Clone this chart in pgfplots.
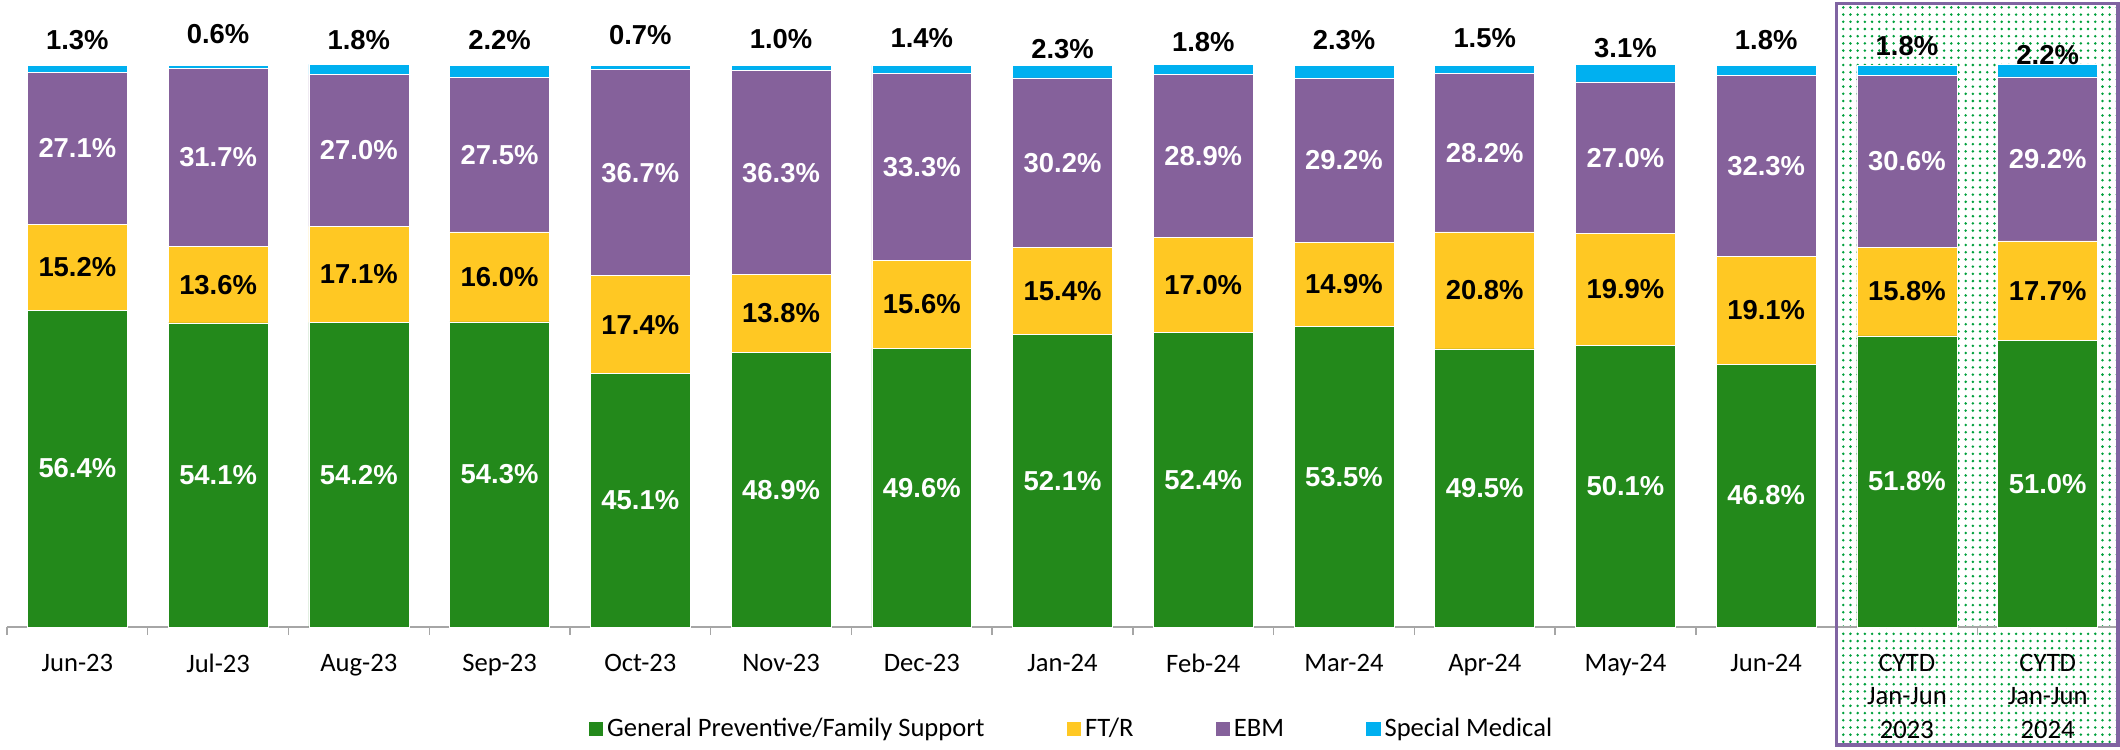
\documentclass[border=0pt]{standalone}
\usepackage{pgfplots}
\pgfplotsset{compat=1.18}
\usepackage{pgfplotstable}
\usepackage{fontspec}
\setmainfont{Carlito}
\newfontfamily\arialfont{Liberation Sans}
\usetikzlibrary{patterns.meta}
\definecolor{cgreen}{RGB}{35,137,27}
\definecolor{cyellow}{RGB}{255,200,35}
\definecolor{cpurple}{RGB}{133,97,155}
\definecolor{cblue}{RGB}{0,176,240}
\definecolor{dotgreen}{RGB}{0,160,60}
\definecolor{boxpurple}{RGB}{128,100,162}
\definecolor{axgray}{RGB}{166,166,166}

\pgfplotstableread{
x gp ft ebm sm ty
0 56.4 15.2 27.1 1.3 104.4
1 54.1 13.6 31.7 0.6 105.5
2 54.2 17.1 27.0 1.8 104.4
3 54.3 16.0 27.5 2.2 104.4
4 45.1 17.4 36.7 0.7 105.3
5 48.9 13.8 36.3 1.0 104.6
6 49.6 15.6 33.3 1.4 104.8
7 52.1 15.4 30.2 2.3 102.8
8 52.4 17.0 28.9 1.8 104.1
9 53.5 14.9 29.2 2.3 104.4
10 49.5 20.8 28.2 1.5 104.8
11 50.1 19.9 27.0 3.1 103.0
12 46.8 19.1 32.3 1.8 104.4
13 51.8 15.8 30.6 1.8 103.4
14 51.0 17.7 29.2 2.2 101.8
}\datatable

\pgfplotsset{
  common/.style={scale only axis, width=1055.5pt, height=311.9pt,
    xmin=-0.5, xmax=14.5, ymin=0, ymax=111, clip=false},
  sqlegend/.style={legend image code/.code={\fill[##1,draw=none] (0pt,-3.6pt) rectangle (7.2pt,3.6pt);}},
  lbl/.style={only marks, mark=text, text mark={},
    point meta=explicit,
    nodes near coords={\pgfmathprintnumber[fixed,fixed zerofill,precision=1,assume math mode=true]{\pgfplotspointmeta}\%},
    nodes near coords align=center,
    every node near coord/.append style={anchor=center, text=#1, inner sep=0pt,
      font=\arialfont\bfseries\fontsize{13.7}{14}\selectfont}},
}

\begin{document}
\begin{tikzpicture}
% background: dotted box behind the two CYTD bars
\begin{axis}[common, axis lines=none, xtick=\empty, ytick=\empty]
\fill[pattern={Dots[distance=3.6pt, radius=0.7pt]}, pattern color=dotgreen] (axis cs:12.5,-21) rectangle (axis cs:14.5,110.9);
\path (axis cs:-0.5497,-21.71) rectangle (axis cs:14.514,111.57);
\end{axis}
\begin{axis}[
  common,
  ybar stacked, bar width=0.71,
  axis x line*=bottom, axis y line=none,
  x axis line style={axgray, line width=0.7pt},
  xtick={0,...,14},
  xticklabels={Jun-23,Jul-23,Aug-23,Sep-23,Oct-23,Nov-23,Dec-23,Jan-24,Feb-24,Mar-24,Apr-24,May-24,Jun-24,{CYTD\\Jan-Jun\\2023},{CYTD\\Jan-Jun\\2024}},
  major tick length=0pt,
  minor xtick={-0.5,0.5,...,14.5},
  minor tick length=4pt, tick align=outside,
  minor x tick style={axgray, line width=0.7pt},
  xticklabel style={font=\fontsize{13.3}{16.7}\selectfont, align=center, anchor=north, yshift=-10pt},
  legend columns=4,
  legend style={at={(0.5047,-0.1635)}, anchor=center, draw=none, fill=none,
    font=\fontsize{13.3}{16}\selectfont,
    /tikz/every even column/.append style={column sep=39pt}},
]
\addplot[fill=cgreen, draw=white, line width=0.3pt, sqlegend] table[x=x, y=gp] {\datatable};
\addlegendentry{General Preventive/Family Support}
\addplot[fill=cyellow, draw=white, line width=0.3pt, sqlegend] table[x=x, y=ft] {\datatable};
\addlegendentry{FT/R}
\addplot[fill=cpurple, draw=white, line width=0.3pt, sqlegend] table[x=x, y=ebm] {\datatable};
\addlegendentry{EBM}
\addplot[fill=cblue, draw=white, line width=0.3pt, sqlegend] table[x=x, y=sm] {\datatable};
\addlegendentry{Special Medical}
\draw[boxpurple, line width=1.6pt] (axis cs:12.5,-21) rectangle (axis cs:14.5,110.9);
\path (axis cs:-0.5497,-21.71) rectangle (axis cs:14.514,111.57);
\end{axis}
\begin{axis}[common, axis lines=none, xtick=\empty, ytick=\empty]
\addplot[lbl=white] table[x=x, y expr=\thisrow{gp}/2, meta=gp] {\datatable};
\addplot[lbl=black] table[x=x, y expr=\thisrow{gp}+\thisrow{ft}/2, meta=ft] {\datatable};
\addplot[lbl=white] table[x=x, y expr=\thisrow{gp}+\thisrow{ft}+\thisrow{ebm}/2, meta=ebm] {\datatable};
\addplot[lbl=black] table[x=x, y=ty, meta=sm] {\datatable};
\end{axis}
\end{tikzpicture}
\end{document}
